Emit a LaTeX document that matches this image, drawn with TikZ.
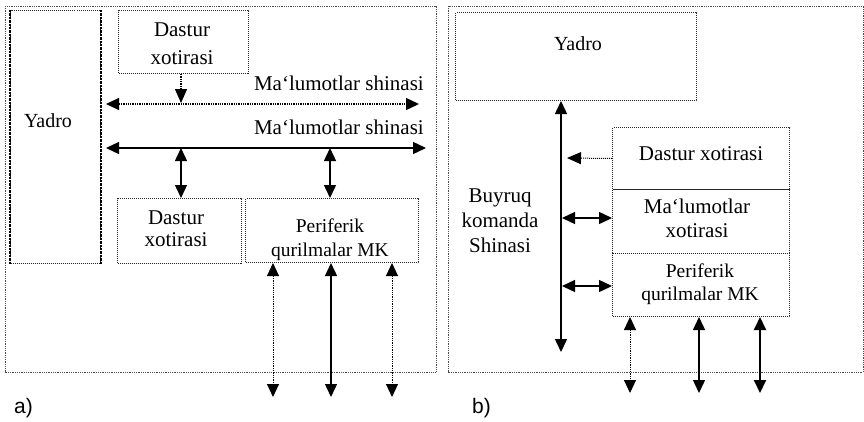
\documentclass[tikz,border=0pt]{standalone}
\usepackage{fontspec}
\setmainfont{Liberation Serif}
\newfontfamily\labfont{Liberation Sans}
\usetikzlibrary{arrows.meta}
\tikzset{
  frame/.style={draw=black!70, densely dotted, line width=0.8pt},
  blk/.style={draw=black!85, densely dotted, line width=1pt, inner sep=0pt, anchor=north west},
  txt/.style={font=\fontsize{21}{28}\selectfont, align=center, inner sep=0pt},
  tip/.style={-{Triangle[width=12pt,length=14pt]}},
  dtip/.style={{Triangle[width=12pt,length=13pt]}-{Triangle[width=12pt,length=13pt]}},
  solidbus/.style={line width=1.4pt},
  dotbus/.style={line width=1.3pt, densely dotted},
}
\begin{document}
\begin{tikzpicture}[x=1pt,y=-1pt]
\useasboundingbox (0,0) rectangle (864,421);
% ---------------- panel a
\draw[frame] (5,6) rectangle (436,372);
\node[blk, minimum width=90pt, minimum height=253pt] (yadroA) at (10,10) {};
\draw[line width=2.4pt, densely dotted] (yadroA.north west) -- (yadroA.south west);
\draw[line width=2.4pt, densely dotted] (yadroA.north east) -- (yadroA.south east);
\node[txt, font=\fontsize{20}{24}\selectfont, anchor=base] (yadroAt) at (48,127) {Yadro};
\node[blk, minimum width=130pt, minimum height=63pt] (dastA1) at (118,10) {};
\node[txt] (dastA1t) at (182,44) {Dastur\\xotirasi};
\coordinate (b1l) at (106,104);
\coordinate (b1r) at (419,104);
\draw[dotbus, dtip] (b1l) -- (b1r);
\node[txt, anchor=base east] (b1lab) at (424,90) {Ma‘lumotlar shinasi};
\draw[dotbus, tip] (dastA1.south -| 181,0) -- (181,103);
\coordinate (b2l) at (106,148);
\coordinate (b2r) at (426,148);
\draw[solidbus, dtip] (b2l) -- (b2r);
\node[txt, anchor=base east] (b2lab) at (424,134) {Ma‘lumotlar shinasi};
\node[blk, minimum width=124pt, minimum height=65pt] (dastA2) at (117,198) {};
\node[txt, font=\fontsize{21}{22}\selectfont] (dastA2t) at (176,229) {Dastur\\xotirasi};
\node[blk, minimum width=173pt, minimum height=64pt] (perA) at (245,198) {};
\node[txt, font=\fontsize{19.5}{24}\selectfont] (perAt) at (330,239.5) {Periferik\\qurilmalar MK};
\draw[solidbus, dtip] (181,148) -- (dastA2.north -| 181,0);
\draw[solidbus, dtip] (330,148) -- (perA.north -| 330,0);
\coordinate (pa1) at (273,397);
\coordinate (pa2) at (331,397);
\coordinate (pa3) at (392,397);
\draw[dotbus, line width=1pt, dtip] (perA.south -| pa1) -- (pa1);
\draw[solidbus, dtip] (perA.south -| pa2) -- (pa2);
\draw[dotbus, line width=1pt, dtip] (perA.south -| pa3) -- (pa3);
\node[font=\labfont\fontsize{21}{24}\selectfont, inner sep=0pt, anchor=base west] (la) at (14,413) {a)};
% ---------------- panel b
\draw[frame] (448,6) rectangle (863,372);
\node[blk, minimum width=241pt, minimum height=88pt] (yadroB) at (455,12) {};
\node[txt, font=\fontsize{20}{24}\selectfont, anchor=base] (yadroBt) at (578,50) {Yadro};
\coordinate (busBb) at (561,352);
\draw[solidbus, line width=1.5pt, dtip] (busBb) -- (yadroB.south -| busBb);
\node[blk, minimum width=177pt, minimum height=62pt] (dastB) at (612,127) {};
\node[txt, anchor=base] (dastBt) at (701,160) {Dastur xotirasi};
\node[blk, minimum width=177pt, minimum height=64pt] (malB) at (612,189) {};
\node[txt, font=\fontsize{21}{24}\selectfont] (malBt) at (697,218) {Ma‘lumotlar\\xotirasi};
\node[blk, minimum width=177pt, minimum height=63pt] (perB) at (612,253) {};
\node[txt, font=\fontsize{19.5}{23}\selectfont] (perBt) at (700,284) {Periferik\\qurilmalar MK};
\draw[line width=1pt, densely dotted, tip] (dastB.west) -- (567,158);
\draw[solidbus, dtip] (562,218) -- (612,218);
\draw[solidbus, dtip] (562,286) -- (612,286);
\coordinate (pb1) at (630,393);
\coordinate (pb2) at (699,393);
\coordinate (pb3) at (760,393);
\draw[dotbus, line width=1pt, dtip] (perB.south -| pb1) -- (pb1);
\draw[solidbus, dtip] (perB.south -| pb2) -- (pb2);
\draw[solidbus, line width=1.9pt, dtip] (perB.south -| pb3) -- (pb3);
\node[txt, font=\fontsize{21}{25}\selectfont] (buyt) at (500,221) {Buyruq\\komanda\\Shinasi};
\node[font=\labfont\fontsize{21}{24}\selectfont, inner sep=0pt, anchor=base west] (lb) at (472,413) {b)};
\end{tikzpicture}
\end{document}
